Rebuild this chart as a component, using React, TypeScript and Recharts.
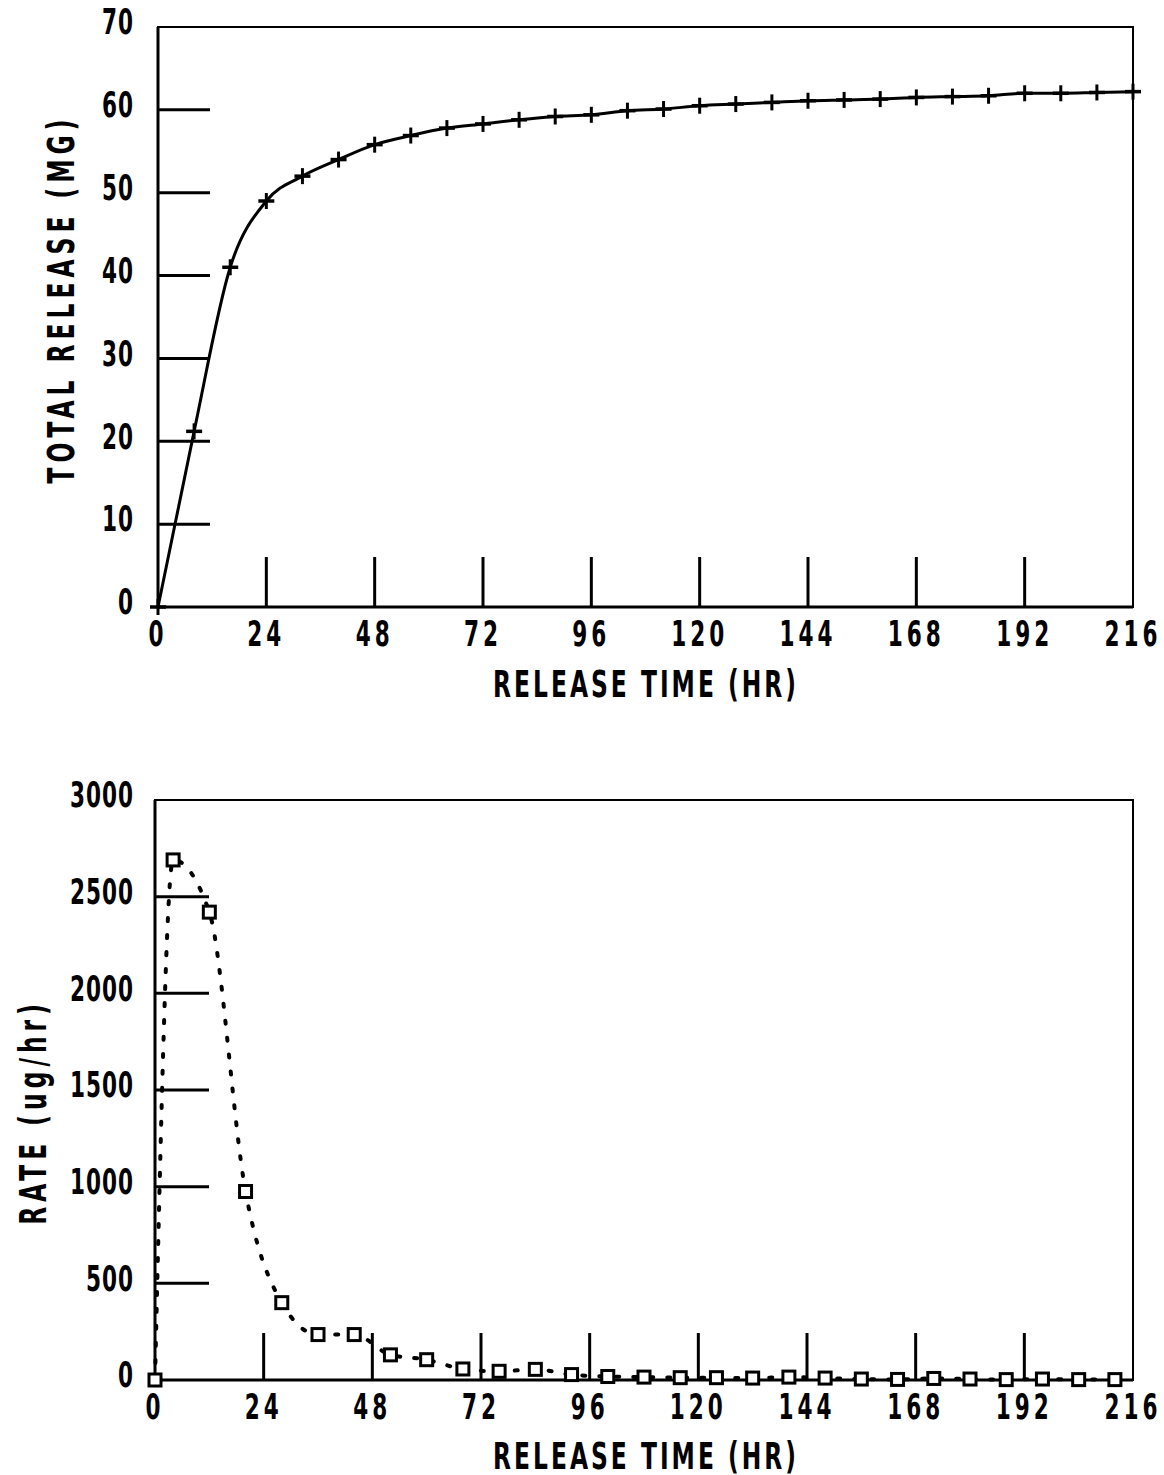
import React from 'react';
import { LineChart, Line, XAxis, YAxis, ReferenceArea } from 'recharts';

// cumulative release, sampled every 8 hr
const hours = [0, 8, 16, 24, 32, 40, 48, 56, 64, 72, 80, 88, 96, 104, 112, 120, 128, 136, 144, 152, 160, 168, 176, 184, 192, 200, 208, 216];
const totalRelease = [0, 21.2, 41, 49, 52, 54, 55.8, 56.9, 57.8, 58.3, 58.8, 59.2, 59.4, 59.9, 60.1, 60.5, 60.7, 60.9, 61.1, 61.2, 61.3, 61.5, 61.6, 61.7, 62, 62, 62.1, 62.2];

// release rate at interval midpoints
const rateHours = [0, 4, 12, 20, 28, 36, 44, 52, 60, 68, 76, 84, 92, 100, 108, 116, 124, 132, 140, 148, 156, 164, 172, 180, 188, 196, 204, 212];
const rateValues = [0, 2690, 2420, 975, 400, 235, 235, 130, 105, 57, 45, 55, 28, 18, 15, 12, 12, 10, 15, 10, 5, 3, 8, 5, 2, 5, 2, 2];

const timeTicks = [0, 24, 48, 72, 96, 120, 144, 168, 192, 216];
const totalTicks = [0, 10, 20, 30, 40, 50, 60, 70];
const rateTicks = [0, 500, 1000, 1500, 2000, 2500, 3000];

const FONT = '"DejaVu Sans Condensed", "DejaVu Sans", sans-serif';

const totalData = hours.map((h, i) => ({ h, v: totalRelease[i] }));
const rateData = rateHours.map((h, i) => ({ h, v: rateValues[i] }));

function YTick(props: any) {
  const { x, y, payload, skip, len, gap } = props;
  const v = payload.value;
  return (
    <g>
      {!skip.includes(v) && <line x1={x} y1={y} x2={x + len} y2={y} stroke="#000" strokeWidth={3} />}
      <g transform={`translate(${x - gap},${y - 5}) scale(1,1.5)`}>
        <text x={0} y={0} textAnchor="end" dominantBaseline="central" fontFamily={FONT} fontWeight="bold" fontSize={24} letterSpacing={1} fill="#000">
          {v}
        </text>
      </g>
    </g>
  );
}

function XTick(props: any) {
  const { x, y, payload, len } = props;
  const v = payload.value;
  const inner = v !== 0 && v !== 216;
  return (
    <g>
      {inner && <line x1={x} y1={y} x2={x} y2={y - len} stroke="#000" strokeWidth={3} />}
      <g transform={`translate(${x},${y + 13}) scale(1,1.5)`}>
        <text x={0} y={0} dy="0.73em" textAnchor="middle" fontFamily={FONT} fontWeight="bold" fontSize={24} letterSpacing={4} fill="#000">
          {v}
        </text>
      </g>
    </g>
  );
}

function PlusDot(props: any) {
  const { cx, cy } = props;
  if (cx == null || cy == null) return null;
  return (
    <g>
      <line x1={cx - 8} y1={cy} x2={cx + 8} y2={cy} stroke="#000" strokeWidth={3.5} />
      <line x1={cx} y1={cy - 8} x2={cx} y2={cy + 8} stroke="#000" strokeWidth={3} />
    </g>
  );
}

function SquareDot(props: any) {
  const { cx, cy } = props;
  if (cx == null || cy == null) return null;
  return <rect x={cx - 6} y={cy - 6} width={12} height={12} fill="#fff" stroke="#000" strokeWidth={3} />;
}

function Title({ text, x, y, vertical, spacing }: { text: string; x: number; y: number; vertical?: boolean; spacing: number }) {
  return (
    <div
      style={{
        position: 'absolute',
        left: x,
        top: y,
        whiteSpace: 'nowrap',
        fontFamily: FONT,
        fontWeight: 'bold',
        fontSize: 26,
        letterSpacing: spacing,
        lineHeight: 1,
        transform: `translate(-50%,-50%)${vertical ? ' rotate(-90deg)' : ''} scaleY(1.45)`,
      }}
    >
      {text}
    </div>
  );
}

export default function App() {
  return (
    <div style={{ position: 'absolute', left: 0, top: 0, width: 1164, height: 1475, background: '#fff' }}>
      <div style={{ position: 'absolute', left: 0, top: 0 }}>
        <LineChart width={1164} height={720} data={totalData} margin={{ top: 27, right: 31, bottom: 112, left: 157 }}>
          <XAxis
            dataKey="h"
            type="number"
            domain={[0, 216]}
            ticks={timeTicks}
            interval={0}
            height={1}
            tickSize={0}
            tickMargin={0}
            axisLine={{ stroke: '#000', strokeWidth: 3 }}
            tick={(p: any) => <XTick {...p} len={50} />}
          />
          <YAxis
            type="number"
            domain={[0, 70]}
            ticks={totalTicks}
            interval={0}
            width={1}
            tickSize={0}
            tickMargin={0}
            axisLine={{ stroke: '#000', strokeWidth: 3 }}
            tick={(p: any) => <YTick {...p} skip={[0, 70]} len={52} gap={24} />}
          />
          <ReferenceArea x1={0} x2={216} y1={0} y2={70} fill="none" stroke="#000" strokeWidth={2} />
          <Line type="monotone" dataKey="v" stroke="#000" strokeWidth={3} dot={<PlusDot />} isAnimationActive={false} />
        </LineChart>
      </div>
      <Title text="RELEASE TIME (HR)" x={646} y={684} spacing={3} />
      <Title text="TOTAL RELEASE (MG)" x={61} y={299} vertical spacing={5} />

      <div style={{ position: 'absolute', left: 0, top: 720 }}>
        <LineChart width={1164} height={755} data={rateData} margin={{ top: 80, right: 31, bottom: 94, left: 154 }}>
          <XAxis
            dataKey="h"
            type="number"
            domain={[0, 216]}
            ticks={timeTicks}
            interval={0}
            height={1}
            tickSize={0}
            tickMargin={0}
            axisLine={{ stroke: '#000', strokeWidth: 3 }}
            tick={(p: any) => <XTick {...p} len={47} />}
          />
          <YAxis
            type="number"
            domain={[0, 3000]}
            ticks={rateTicks}
            interval={0}
            width={1}
            tickSize={0}
            tickMargin={0}
            axisLine={{ stroke: '#000', strokeWidth: 3 }}
            tick={(p: any) => <YTick {...p} skip={[0, 3000]} len={54} gap={21} />}
          />
          <ReferenceArea x1={0} x2={216} y1={0} y2={3000} fill="none" stroke="#000" strokeWidth={2} />
          <Line
            type="monotone"
            dataKey="v"
            stroke="#000"
            strokeWidth={4}
            strokeDasharray="3 14"
            strokeLinecap="round"
            dot={<SquareDot />}
            isAnimationActive={false}
          />
        </LineChart>
      </div>
      <Title text="RELEASE TIME (HR)" x={646} y={1456} spacing={3} />
      <Title text="RATE (ug/hr)" x={33} y={1112} vertical spacing={5} />
    </div>
  );
}
